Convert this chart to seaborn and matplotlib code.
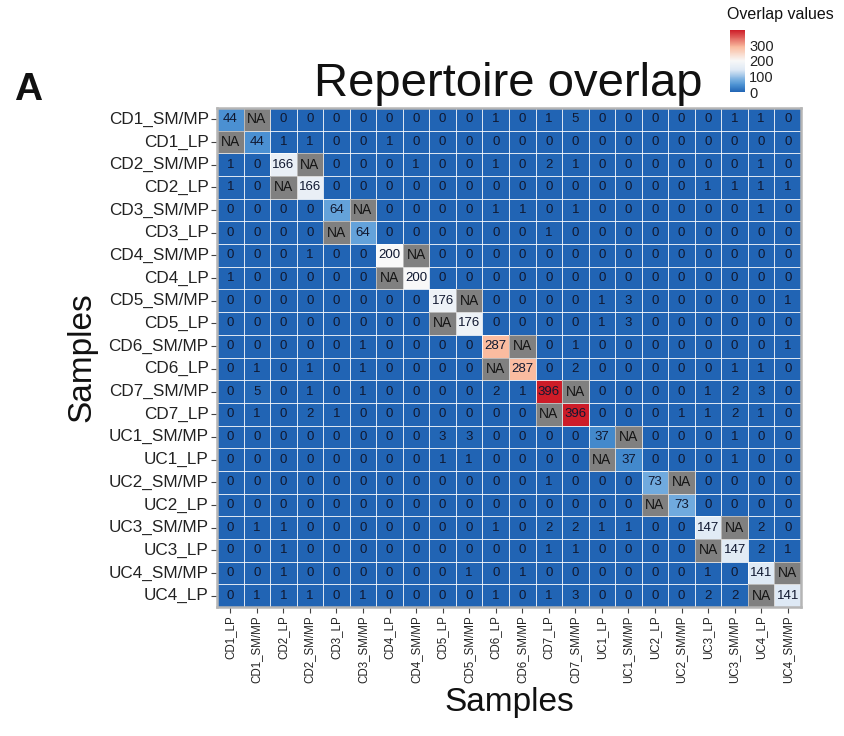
import numpy as np
import pandas as pd
import matplotlib
matplotlib.use("Agg")
import matplotlib.pyplot as plt
from matplotlib.colors import LinearSegmentedColormap, ListedColormap
import seaborn as sns

row_labels = ["CD1_SM/MP", "CD1_LP", "CD2_SM/MP", "CD2_LP", "CD3_SM/MP", "CD3_LP",
              "CD4_SM/MP", "CD4_LP", "CD5_SM/MP", "CD5_LP", "CD6_SM/MP", "CD6_LP",
              "CD7_SM/MP", "CD7_LP", "UC1_SM/MP", "UC1_LP", "UC2_SM/MP", "UC2_LP",
              "UC3_SM/MP", "UC3_LP", "UC4_SM/MP", "UC4_LP"]
col_labels = ["CD1_LP", "CD1_SM/MP", "CD2_LP", "CD2_SM/MP", "CD3_LP", "CD3_SM/MP",
              "CD4_LP", "CD4_SM/MP", "CD5_LP", "CD5_SM/MP", "CD6_LP", "CD6_SM/MP",
              "CD7_LP", "CD7_SM/MP", "UC1_LP", "UC1_SM/MP", "UC2_LP", "UC2_SM/MP",
              "UC3_LP", "UC3_SM/MP", "UC4_LP", "UC4_SM/MP"]

NA = None
overlap_values = [
    [44, NA, 0, 0, 0, 0, 0, 0, 0, 0, 1, 0, 1, 5, 0, 0, 0, 0, 0, 1, 1, 0],
    [NA, 44, 1, 1, 0, 0, 1, 0, 0, 0, 0, 0, 0, 0, 0, 0, 0, 0, 0, 0, 0, 0],
    [1, 0, 166, NA, 0, 0, 0, 1, 0, 0, 1, 0, 2, 1, 0, 0, 0, 0, 0, 0, 1, 0],
    [1, 0, NA, 166, 0, 0, 0, 0, 0, 0, 0, 0, 0, 0, 0, 0, 0, 0, 1, 1, 1, 1],
    [0, 0, 0, 0, 64, NA, 0, 0, 0, 0, 1, 1, 0, 1, 0, 0, 0, 0, 0, 0, 1, 0],
    [0, 0, 0, 0, NA, 64, 0, 0, 0, 0, 0, 0, 1, 0, 0, 0, 0, 0, 0, 0, 0, 0],
    [0, 0, 0, 1, 0, 0, 200, NA, 0, 0, 0, 0, 0, 0, 0, 0, 0, 0, 0, 0, 0, 0],
    [1, 0, 0, 0, 0, 0, NA, 200, 0, 0, 0, 0, 0, 0, 0, 0, 0, 0, 0, 0, 0, 0],
    [0, 0, 0, 0, 0, 0, 0, 0, 176, NA, 0, 0, 0, 0, 1, 3, 0, 0, 0, 0, 0, 1],
    [0, 0, 0, 0, 0, 0, 0, 0, NA, 176, 0, 0, 0, 0, 1, 3, 0, 0, 0, 0, 0, 0],
    [0, 0, 0, 0, 0, 1, 0, 0, 0, 0, 287, NA, 0, 1, 0, 0, 0, 0, 0, 0, 0, 1],
    [0, 1, 0, 1, 0, 1, 0, 0, 0, 0, NA, 287, 0, 2, 0, 0, 0, 0, 0, 1, 1, 0],
    [0, 5, 0, 1, 0, 1, 0, 0, 0, 0, 2, 1, 396, NA, 0, 0, 0, 0, 1, 2, 3, 0],
    [0, 1, 0, 2, 1, 0, 0, 0, 0, 0, 0, 0, NA, 396, 0, 0, 0, 1, 1, 2, 1, 0],
    [0, 0, 0, 0, 0, 0, 0, 0, 3, 3, 0, 0, 0, 0, 37, NA, 0, 0, 0, 1, 0, 0],
    [0, 0, 0, 0, 0, 0, 0, 0, 1, 1, 0, 0, 0, 0, NA, 37, 0, 0, 0, 1, 0, 0],
    [0, 0, 0, 0, 0, 0, 0, 0, 0, 0, 0, 0, 1, 0, 0, 0, 73, NA, 0, 0, 0, 0],
    [0, 0, 0, 0, 0, 0, 0, 0, 0, 0, 0, 0, 0, 0, 0, 0, NA, 73, 0, 0, 0, 0],
    [0, 1, 1, 0, 0, 0, 0, 0, 0, 0, 1, 0, 2, 2, 1, 1, 0, 0, 147, NA, 2, 0],
    [0, 0, 1, 0, 0, 0, 0, 0, 0, 0, 0, 0, 1, 1, 0, 0, 0, 0, NA, 147, 2, 1],
    [0, 0, 1, 0, 0, 0, 0, 0, 0, 1, 0, 1, 0, 0, 0, 0, 0, 0, 1, 0, 141, NA],
    [0, 1, 1, 1, 0, 1, 0, 0, 0, 0, 1, 0, 1, 3, 0, 0, 0, 0, 2, 2, NA, 141],
]
colorbar_ticks = [0, 100, 200, 300]

df = pd.DataFrame([[np.nan if v is None else v for v in r] for r in overlap_values],
                  index=row_labels, columns=col_labels, dtype=float)
na_mask = df.isna()

sns.set_theme(style="white")
plt.rcParams["font.family"] = ["Liberation Sans", "DejaVu Sans"]

vmax = float(np.nanmax(df.values))
stops = [(0.0, (33/255, 100/255, 180/255)),
         (44/vmax, (75/255, 145/255, 210/255)),
         (73/vmax, (112/255, 170/255, 222/255)),
         (141/vmax, (222/255, 233/255, 245/255)),
         (200/vmax, (248/255, 248/255, 248/255)),
         (287/vmax, (250/255, 188/255, 160/255)),
         (1.0, (205/255, 28/255, 40/255))]
cmap = LinearSegmentedColormap.from_list("overlap", stops)

fig = plt.figure(figsize=(8.45, 7.36), dpi=100)
ax = fig.add_axes([217/845, 1-607/736, 584/845, 499/736])
cax = fig.add_axes([730/845, 1-92/736, 15/845, 62/736])

line_col = (1, 1, 1, 0.45)
sns.heatmap(df, ax=ax, cmap=cmap, vmin=0, vmax=vmax, mask=na_mask,
            annot=True, fmt=".0f", annot_kws={"fontsize": 9.5, "color": "#101830"},
            linewidths=0.6, linecolor=line_col, cbar_ax=cax,
            cbar_kws={"ticks": colorbar_ticks})
sns.heatmap(na_mask.astype(float), ax=ax, mask=~na_mask,
            cmap=ListedColormap(["#808080"]), cbar=False,
            annot=np.full(df.shape, "NA"), fmt="",
            annot_kws={"fontsize": 10, "color": "#151515"},
            linewidths=0.6, linecolor=line_col)

for s in ax.spines.values():
    s.set_visible(True)
    s.set_color("#b5b5b5")
    s.set_linewidth(1.8)

ax.set_xticks(np.arange(len(col_labels)) + 0.5)
ax.set_xticklabels(col_labels, rotation=90, fontsize=8.3, color="#222222")
ax.set_yticks(np.arange(len(row_labels)) + 0.5)
ax.set_yticklabels(row_labels, rotation=0, fontsize=12.3, color="#222222")
ax.tick_params(axis="both", length=4, width=0.8, color="#444444", pad=2,
               bottom=True, left=True)
ax.set_xlabel("Samples", fontsize=24, labelpad=3, color="#111111")
ax.set_ylabel("Samples", fontsize=24, labelpad=8, color="#111111")

cbar = ax.collections[0].colorbar
cbar.outline.set_visible(False)
cax.tick_params(length=3, width=0.8, color="white", labelsize=10.5, pad=3,
                direction="in")
for t in cax.get_yticklabels():
    t.set_color("#222222")
fig.text(727/845, 1-14/736, "Overlap values", fontsize=11.5, va="center",
         ha="left", color="#111111")

fig.text(508/845, 1-96/736, "Repertoire overlap", fontsize=34, ha="center",
         va="baseline", color="#111111")
fig.text(14/845, 1-100/736, "A", fontsize=28, fontweight="bold",
         ha="left", va="baseline", color="#111111")

fig.savefig("out.png", dpi=100)
